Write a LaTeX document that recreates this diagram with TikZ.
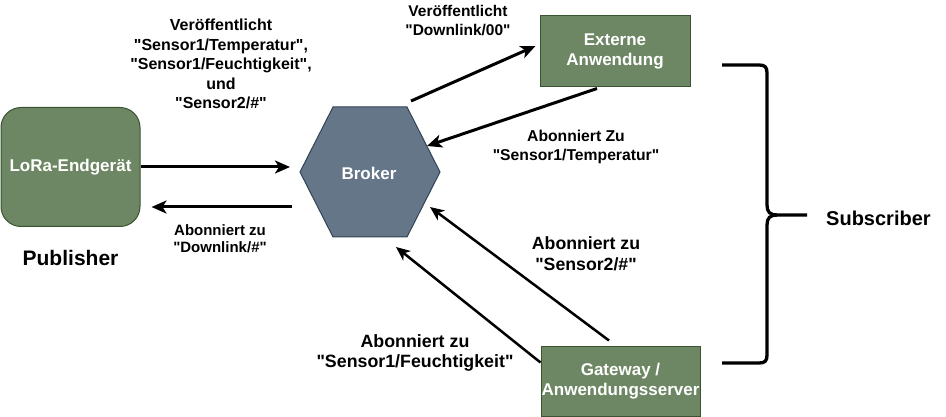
\documentclass[tikz,border=0pt]{standalone}
\usepackage{fontspec}
\setmainfont{Liberation Sans}[Ligatures=TeXOff]
\usetikzlibrary{arrows.meta,calc}
\definecolor{gfill}{HTML}{6D8764}
\definecolor{gline}{HTML}{3A5431}
\definecolor{bfill}{HTML}{647687}
\definecolor{bline}{HTML}{314354}
\newcommand{\fs}[2]{\fontsize{#1}{#2}\selectfont\bfseries}
\begin{document}
\begin{tikzpicture}[x=1pt,y=-1pt,
  box/.style={draw=gline, fill=gfill, text=white, font=\fs{17}{20}, align=center, inner sep=0pt, line width=1pt},
  arr/.style={-{Stealth[length=15pt,width=13pt,inset=4pt]}, line width=3pt},
  arrthin/.style={-{Stealth[length=14pt,width=12pt,inset=4pt]}, line width=2.5pt},
  lbl/.style={align=center, inner sep=0pt},
  brace/.style={line width=3.3pt},
]
\useasboundingbox (0,0) rectangle (946,417);

% nodes
\node[box, rounded corners=20pt, minimum width=139pt, minimum height=119pt] (lora) at (70.5,167) {LoRa-Endgerät};
\draw[draw=bline, fill=bfill, line width=1pt] (300,172) -- (333,107) -- (407,107) -- (440,172) -- (407,237) -- (333,237) -- cycle;
\node[text=white, font=\fs{17}{20}, inner sep=0pt] (broker) at (369,173) {Broker};
\node[box, minimum width=150pt, minimum height=71pt] (ext) at (615,51.5) {Externe\\Anwendung};
\node[box, minimum width=159pt, minimum height=70pt] (gw) at (620.5,381) {Gateway /\\Anwendungsserver};

% broker connection points
\coordinate (bIn) at (290,167);
\coordinate (bOut) at (292,207);
\coordinate (bNE) at (411,101);
\coordinate (bE) at (427,146);
\coordinate (bSE) at (430,207);
\coordinate (bS) at (396,247);

% connectors
\draw[arr] (lora.east) -- (bIn);
\draw[arr] (bOut) -- ($(lora.east|-bOut)+(11,0)$);
\draw[arr] (bNE) -- ($(ext.west)+(-4,-5.5)$);
\draw[arr] ($(ext.south)+(-18,1)$) -- (bE);
\draw[arrthin] ($(gw.north)+(-11.5,-5)$) -- (bSE);
\draw[arrthin] ($(gw.north west)+(0,17)$) -- (bS);

% labels
\node[lbl, font=\fs{16}{19.5}] (l1) at (221,64) {Veröffentlicht\\"Sensor1/Temperatur",\\"Sensor1/Feuchtigkeit",\\und\\"Sensor2/\#"};
\node[lbl, font=\fs{15}{16.5}] (l2) at (220,238.5) {Abonniert zu\\"Downlink/\#"};
\node[lbl, font=\fs{15.5}{19}] (l3) at (458,20.5) {Veröffentlicht\\"Downlink/00"};
\node[lbl, font=\fs{15.7}{19}] (l4) at (576,147) {Abonniert Zu\\"Sensor1/Temperatur"};
\node[lbl, font=\fs{17.7}{21.5}] (l5) at (586,254) {Abonniert zu\\"Sensor2/\#"};
\node[lbl, font=\fs{17.8}{20}] (l6) at (415,353) {Abonniert zu\\"Sensor1/Feuchtigkeit"};

\node[lbl, font=\fs{21}{25}] (pub) at (70.5,257.5) {Publisher};

% curly bracket
\coordinate (btip) at (807,215);
\draw[brace] (722,65) -- (759,65) .. controls (765,65) and (767,67) .. (767,73) -- (767,205) .. controls (767,212) and (770,215) .. (777,215) -- (btip);
\draw[brace] (777,215) .. controls (770,215) and (767,218) .. (767,225) -- (767,355) .. controls (767,361) and (765,363) .. (759,363) -- (722,363);
\node[lbl, font=\fs{20}{24}, anchor=west] (sub) at ($(btip)+(19,3)$) {Subscriber};
\end{tikzpicture}
\end{document}
